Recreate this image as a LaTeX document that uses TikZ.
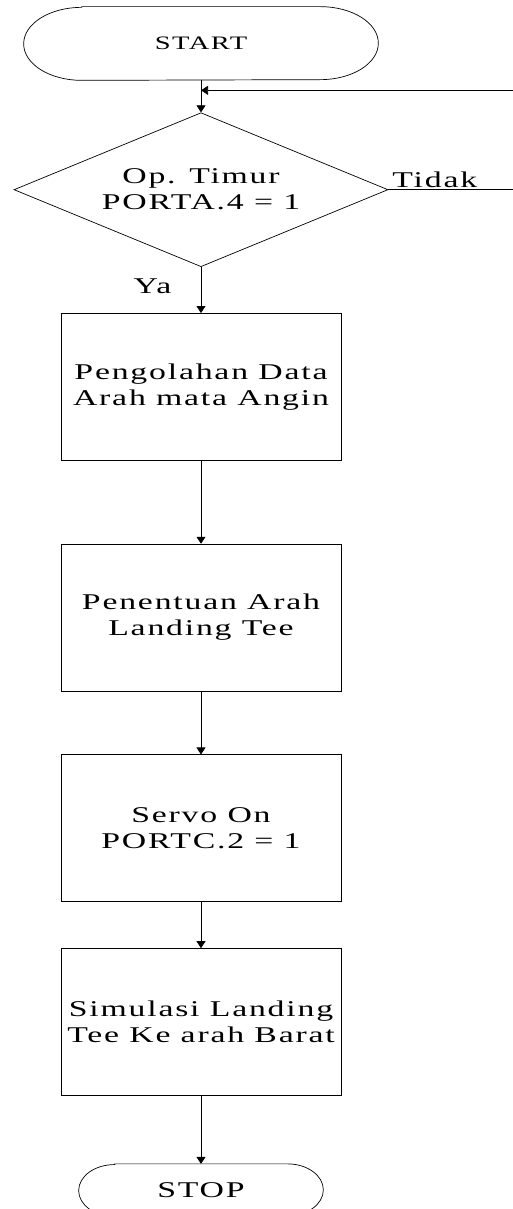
\documentclass[tikz,border=0pt]{standalone}
\usepackage{fontspec}
\setmainfont{Liberation Serif}[FakeStretch=1.5,LetterSpace=8]
\usetikzlibrary{arrows.meta,positioning,shapes.geometric}

\begin{document}
\begin{tikzpicture}[>={Triangle[length=7pt,width=9pt]}, line width=0.7pt,
  every node/.style={font=\fontsize{22.5pt}{26pt}\selectfont},
  term/.style={minimum width=354pt, minimum height=73pt, inner sep=0pt},
  proc/.style={draw, minimum width=280pt, minimum height=147pt, inner sep=0pt, align=center},
  decide/.style={draw, diamond, aspect=2.43, minimum width=374pt, minimum height=154pt, inner sep=0pt, align=center}]
\useasboundingbox (0,0) rectangle (512pt,-1209pt);

\node[term, font=\fontsize{19pt}{23pt}\selectfont] (start) at (201pt,-43.5pt) {START};
\node[decide, below=32pt of start] (dec) {Op. Timur\\PORTA.4 = 1};
\node[proc, below=46pt of dec] (olah) {Pengolahan Data\\Arah mata Angin};
\node[proc, below=83pt of olah] (arah) {Penentuan Arah\\Landing Tee};
\node[proc, below=63pt of arah] (servo) {Servo On\\PORTC.2 = 1};
\node[proc, below=46pt of servo] (simul) {Simulasi Landing\\Tee Ke arah Barat};
\node[minimum width=244pt, minimum height=52pt, inner sep=0pt, below=68pt of simul] (stop) {STOP};

% terminal outlines
\draw ([xshift=58pt]start.north west) -- ([xshift=-58pt]start.north east)
  arc[start angle=90, end angle=-90, x radius=58pt, y radius=36.5pt]
  -- ([xshift=58pt]start.south west)
  arc[start angle=-90, end angle=-270, x radius=58pt, y radius=36.5pt] -- cycle;
\draw ([xshift=36pt]stop.north west) -- ([xshift=-36pt]stop.north east)
  arc[start angle=90, end angle=-90, x radius=36pt, y radius=26pt]
  -- ([xshift=36pt]stop.south west)
  arc[start angle=-90, end angle=-270, x radius=36pt, y radius=26pt] -- cycle;

\coordinate (loopR) at ([xshift=150pt]dec.east);
\coordinate (join) at ([yshift=-10pt]start.south);

\draw[->] (start) -- (dec);
\draw[->] (dec.east) -- node[above, pos=0.31, inner sep=2pt]{Tidak} (loopR) |- (join);
\draw[->] (dec.south) -- node[pos=0.42, left=26pt]{Ya} (olah);
\draw[->] (olah) -- (arah);
\draw[->] (arah) -- (servo);
\draw[->] (servo) -- (simul);
\draw[->] (simul) -- (stop);
\end{tikzpicture}
\end{document}
